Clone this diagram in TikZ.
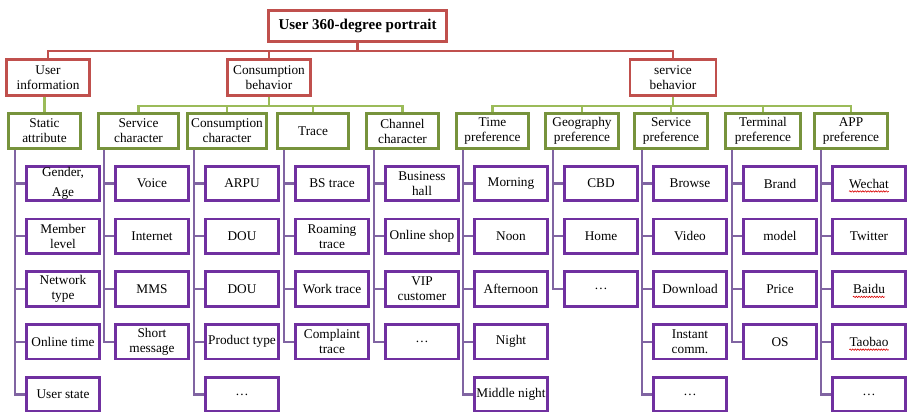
\documentclass[tikz,border=0pt]{standalone}
\usepackage{fontspec}
\setmainfont{Liberation Serif}
\usetikzlibrary{decorations.pathmorphing}
\definecolor{rbox}{HTML}{C0504D}
\definecolor{gbox}{HTML}{77933C}
\definecolor{gcon}{HTML}{9BBB59}
\definecolor{pbox}{HTML}{7030A0}
\definecolor{pcon}{HTML}{8064A2}
\begin{document}
\begin{tikzpicture}[x=1pt,y=-1pt,
  every node/.style={font=\fontsize{13.3}{15}\selectfont, align=center, inner sep=1pt},
  rootbox/.style={draw=rbox, line width=2.6pt, minimum width=178pt, minimum height=31.5pt, font=\fontsize{15}{17}\selectfont\bfseries},
  lonebox/.style={draw=rbox, line width=2.6pt, minimum width=83pt, minimum height=36.5pt},
  ltwobox/.style={draw=gbox, line width=2.6pt, minimum width=72.5pt, minimum height=35.5pt},
  leafbox/.style={draw=pbox, line width=2.6pt, minimum width=72.5pt, minimum height=34.5pt},
  rline/.style={draw=rbox, line width=2.2pt},
  gline/.style={draw=gcon, line width=2.2pt},
  pline/.style={draw=pcon, line width=2.2pt},
  squig/.style={draw=red!85!black, line width=0.6pt, decorate, decoration={snake, amplitude=0.7pt, segment length=2.6pt}}
]
\useasboundingbox (0,0) rectangle (907,412);

% root and level 1
\node[rootbox] (root) at (357.5,26) {User 360-degree portrait};
\node[lonebox] (ui) at (48,77.5) {User\\information};
\node[lonebox] (cb) at (269,77.5) {Consumption\\behavior};
\node[lonebox, minimum width=86pt] (sb) at (673,77.5) {service\\behavior};

% level 2
\node[ltwobox] (s1) at (44.5,131) {Static\\attribute};
\node[ltwobox, minimum width=80.5pt] (s2) at (138.5,131) {Service\\character};
\node[ltwobox, minimum width=79.5pt] (s3) at (227,131) {Consumption\\character};
\node[ltwobox, minimum width=71.5pt] (s4) at (313,131) {Trace};
\node[ltwobox] (s5) at (402.5,131) {Channel\\character};
\node[ltwobox] (s6) at (492.5,131) {Time\\preference};
\node[ltwobox] (s7) at (582,131) {Geography\\preference};
\node[ltwobox] (s8) at (671,131) {Service\\preference};
\node[ltwobox, minimum width=75.5pt] (s9) at (763,131) {Terminal\\preference};
\node[ltwobox, minimum width=73.5pt] (s10) at (851,131) {APP\\preference};

% red connectors
\coordinate (rbus) at (0,51);
\draw[rline] (root.south) -- (root.south |- rbus);
\draw[rline] (ui.north) |- (rbus -| sb.north) -- (sb.north);
\draw[rline] (cb.north) -- (cb.north |- rbus);

% green connectors
\draw[gline] (s1.north |- ui.south) -- (s1.north);
\coordinate (gbus) at (0,106);
\draw[gline] (cb.south) -- (cb.south |- gbus);
\draw[gline] (s2.north) |- (gbus -| s5.north) -- (s5.north);
\draw[gline] (s3.north) -- (s3.north |- gbus);
\draw[gline] (s4.north) -- (s4.north |- gbus);
\draw[gline] (sb.south) -- (sb.south |- gbus);
\draw[gline] (s6.north) |- (gbus -| s10.north) -- (s10.north);
\draw[gline] (s7.north) -- (s7.north |- gbus);
\draw[gline] (s8.north) -- (s8.north |- gbus);
\draw[gline] (s9.north) -- (s9.north |- gbus);

% vertical purple line positions
\coordinate (v1) at (15,150);
\coordinate (v2) at (104,150);
\coordinate (v3) at (194,150);
\coordinate (v4) at (284,150);
\coordinate (v5) at (374,150);
\coordinate (v6) at (463,150);
\coordinate (v7) at (553,150);
\coordinate (v8) at (642,150);
\coordinate (v9) at (732,150);
\coordinate (v10) at (821,150);

% column 1
\node[leafbox] (c1-1) at (63,183.5) {Gender,\\[5pt]Age};
\node[leafbox] (c1-2) at (63,236.25) {Member\\level};
\node[leafbox] (c1-3) at (63,289) {Network\\type};
\node[leafbox] (c1-4) at (63,341.75) {Online time};
\node[leafbox] (c1-5) at (63,394.5) {User state};
% column 2
\node[leafbox] (c2-1) at (152,183.5) {Voice};
\node[leafbox] (c2-2) at (152,236.25) {Internet};
\node[leafbox] (c2-3) at (152,289) {MMS};
\node[leafbox] (c2-4) at (152,341.75) {Short\\message};
% column 3
\node[leafbox] (c3-1) at (242,183.5) {ARPU};
\node[leafbox] (c3-2) at (242,236.25) {DOU};
\node[leafbox] (c3-3) at (242,289) {DOU};
\node[leafbox] (c3-4) at (242,341.75) {Product type};
\node[leafbox] (c3-5) at (242,394.5) {…};
% column 4
\node[leafbox] (c4-1) at (332,183.5) {BS trace};
\node[leafbox] (c4-2) at (332,236.25) {Roaming\\trace};
\node[leafbox] (c4-3) at (332,289) {Work trace};
\node[leafbox] (c4-4) at (332,341.75) {Complaint\\trace};
% column 5
\node[leafbox] (c5-1) at (422,183.5) {Business\\hall};
\node[leafbox] (c5-2) at (422,236.25) {Online shop};
\node[leafbox] (c5-3) at (422,289) {VIP\\customer};
\node[leafbox] (c5-4) at (422,341.75) {…};
% column 6
\node[leafbox] (c6-1) at (511,183.5) {Morning};
\node[leafbox] (c6-2) at (511,236.25) {Noon};
\node[leafbox] (c6-3) at (511,289) {Afternoon};
\node[leafbox] (c6-4) at (511,341.75) {Night};
\node[leafbox, inner sep=0pt] (c6-5) at (511,394.5) {Middle night};
% column 7
\node[leafbox] (c7-1) at (601,183.5) {CBD};
\node[leafbox] (c7-2) at (601,236.25) {Home};
\node[leafbox] (c7-3) at (601,289) {…};
% column 8
\node[leafbox] (c8-1) at (690,183.5) {Browse};
\node[leafbox] (c8-2) at (690,236.25) {Video};
\node[leafbox] (c8-3) at (690,289) {Download};
\node[leafbox] (c8-4) at (690,341.75) {Instant\\comm.};
\node[leafbox] (c8-5) at (690,394.5) {…};
% column 9
\node[leafbox] (c9-1) at (780,183.5) {Brand};
\node[leafbox] (c9-2) at (780,236.25) {model};
\node[leafbox] (c9-3) at (780,289) {Price};
\node[leafbox] (c9-4) at (780,341.75) {OS};
% column 10
\node[leafbox] (c10-1) at (869,183.5) {Wechat};
\node[leafbox] (c10-2) at (869,236.25) {Twitter};
\node[leafbox] (c10-3) at (869,289) {Baidu};
\node[leafbox] (c10-4) at (869,341.75) {Taobao};
\node[leafbox] (c10-5) at (869,394.5) {…};

% purple connectors
\draw[pline] (v1) |- (c1-5.west);
\foreach \i in {1,...,4} {\draw[pline] (c1-\i.west) -- (c1-\i.west -| v1);}
\draw[pline] (v2) |- (c2-4.west);
\foreach \i in {1,...,3} {\draw[pline] (c2-\i.west) -- (c2-\i.west -| v2);}
\draw[pline] (v3) |- (c3-5.west);
\foreach \i in {1,...,4} {\draw[pline] (c3-\i.west) -- (c3-\i.west -| v3);}
\draw[pline] (v4) |- (c4-4.west);
\foreach \i in {1,...,3} {\draw[pline] (c4-\i.west) -- (c4-\i.west -| v4);}
\draw[pline] (v5) |- (c5-4.west);
\foreach \i in {1,...,3} {\draw[pline] (c5-\i.west) -- (c5-\i.west -| v5);}
\draw[pline] (v6) |- (c6-5.west);
\foreach \i in {1,...,4} {\draw[pline] (c6-\i.west) -- (c6-\i.west -| v6);}
\draw[pline] (v7) |- (c7-3.west);
\foreach \i in {1,...,2} {\draw[pline] (c7-\i.west) -- (c7-\i.west -| v7);}
\draw[pline] (v8) |- (c8-5.west);
\foreach \i in {1,...,4} {\draw[pline] (c8-\i.west) -- (c8-\i.west -| v8);}
\draw[pline] (v9) |- (c9-4.west);
\foreach \i in {1,...,3} {\draw[pline] (c9-\i.west) -- (c9-\i.west -| v9);}
\draw[pline] (v10) |- (c10-5.west);
\foreach \i in {1,...,4} {\draw[pline] (c10-\i.west) -- (c10-\i.west -| v10);}

% spell-check squiggles
\node[inner sep=0pt] (q1) at (c10-1.center) {\phantom{Wechat}};
\node[inner sep=0pt] (q3) at (c10-3.center) {\phantom{Baidu}};
\node[inner sep=0pt] (q4) at (c10-4.center) {\phantom{Taobao}};
\draw[squig] ([yshift=-3pt]q1.south west) -- ([yshift=-3pt]q1.south east);
\draw[squig] ([yshift=-3pt]q3.south west) -- ([yshift=-3pt]q3.south east);
\draw[squig] ([yshift=-3pt]q4.south west) -- ([yshift=-3pt]q4.south east);
\end{tikzpicture}
\end{document}
